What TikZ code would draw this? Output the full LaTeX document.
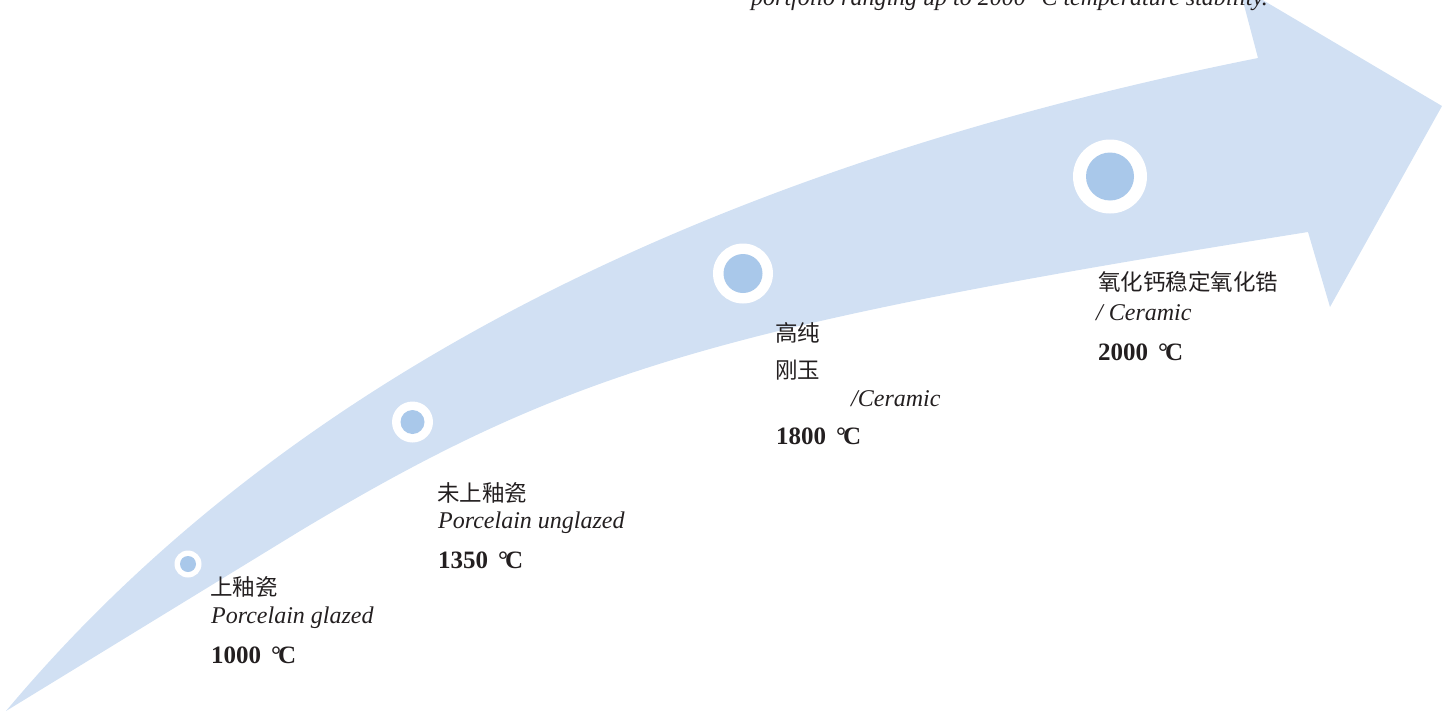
\documentclass[tikz,border=0pt]{standalone}
\usepackage{fontspec}
\setmainfont{Liberation Serif}
\newfontfamily\cjk{Noto Sans CJK SC}
\definecolor{arrowblue}{HTML}{D1E0F3}
\definecolor{dotblue}{HTML}{A9C8EA}
\definecolor{textgray}{HTML}{231F20}
\tikzset{
  cjklabel/.style={anchor=base west, inner sep=0pt, text=textgray, font=\cjk\fontsize{22.5}{27}\selectfont},
  enlabel/.style={anchor=base west, inner sep=0pt, text=textgray, font=\itshape\fontsize{24}{28}\selectfont},
  templabel/.style={anchor=base west, inner sep=0pt, text=textgray, font=\bfseries\fontsize{25}{30}\selectfont},
  ring/.style={circle, fill=white, inner sep=0pt},
  dot/.style={circle, fill=dotblue, inner sep=0pt},
}
\newcommand{\degC}{°\kern-3pt C}
\begin{document}
\begin{tikzpicture}[x=1pt,y=-1pt]
\useasboundingbox (0,0) rectangle (1452,715);
% arrow body
\coordinate (tail) at (6,711);
\coordinate (uppercorner) at (1258,58);
\coordinate (barbtop) at (1239,-14);
\coordinate (tip) at (1442,106);
\coordinate (barbbottom) at (1330,307);
\coordinate (lowercorner) at (1308,232);
\coordinate (lowerbend) at (300,531);
\fill[arrowblue]
  (tail) .. controls (300,360) and (743,161) .. (uppercorner)
  -- (barbtop) -- (tip) -- (barbbottom) -- (lowercorner)
  .. controls (718,326) and (567,371) .. (lowerbend)
  -- cycle;
% milestones
\node[ring, minimum size=27pt] (r1) at (188,564) {};
\node[dot, minimum size=16pt] (d1) at (r1.center) {};
\node[ring, minimum size=41pt] (r2) at (412.5,422) {};
\node[dot, minimum size=24pt] (d2) at (r2.center) {};
\node[ring, minimum size=60pt] (r3) at (743,273.5) {};
\node[dot, minimum size=39pt] (d3) at (r3.center) {};
\node[ring, minimum size=74pt] (r4) at (1110,176.5) {};
\node[dot, minimum size=48pt] (d4) at (r4.center) {};
% labels 1
\node[cjklabel] (l1a) at (210,595) {上釉瓷};
\node[enlabel] (l1b) at (211,623) {Porcelain glazed};
\node[templabel] (l1c) at (211,663) {1000\hspace{10pt}\degC};
% labels 2
\node[cjklabel] (l2a) at (437,501) {未上釉瓷};
\node[enlabel] (l2b) at (438,528) {Porcelain unglazed};
\node[templabel] (l2c) at (438,568) {1350\hspace{10pt}\degC};
% labels 3
\node[cjklabel] (l3a) at (775,341) {高纯};
\node[cjklabel] (l3b) at (775,378) {刚玉};
\node[enlabel] (l3c) at (851,406) {/Ceramic};
\node[templabel] (l3d) at (776,444) {1800\hspace{10pt}\degC};
% labels 4
\node[cjklabel] (l4a) at (1098,290) {氧化钙稳定氧化锆};
\node[enlabel] (l4b) at (1096,320) {/ Ceramic};
\node[templabel] (l4c) at (1098,360) {2000\hspace{10pt}\degC};
% top text (cut by page edge)
\node[enlabel] (top) at (751,5) {portfolio ranging up to 2000 °C temperature stability.};
\end{tikzpicture}
\end{document}
